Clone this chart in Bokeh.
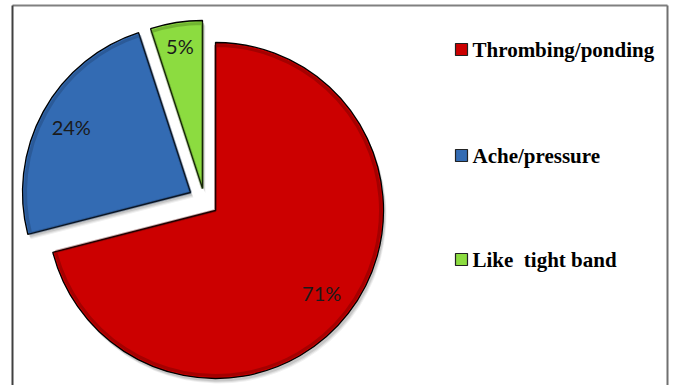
import math
from bokeh.plotting import figure
from bokeh.models import Range1d
from bokeh.core.properties import value
from bokeh.embed import file_html
from bokeh.resources import INLINE

# ---- data ----
labels = ["Thrombing/ponding", "Ache/pressure", "Like  tight band"]
values = [71, 24, 5]
pct_labels = ["71%", "24%", "5%"]
colors = ["#CC0000", "#336BB3", "#8CDC40"]
edge_colors = ["#5a0000", "#1c3c66", "#3e6a16"]

# ---- layout (pixel space, y measured up from bottom) ----
W, H = 675, 385
cx, cy, R = 215, 385 - 210, 168
explode = [(0, 0), (-25, 18), (-13, 22)]      # per-slice offsets
label_frac = [0.80, 0.81, 0.86]

p = figure(width=W, height=H, output_backend="svg", toolbar_location=None,
           x_range=Range1d(0, W), y_range=Range1d(0, H), min_border=0)
p.axis.visible = False
p.grid.visible = False
p.outline_line_color = None
p.background_fill_color = "white"
p.border_fill_color = "white"

# frame
p.segment(x0=[12, 12, 667], y0=[H - 5, H - 5, H - 5], x1=[667, 12, 667], y1=[H - 5, -5, -5],
          line_color=["#808080", "#404040", "#707070"], line_width=2)

total = sum(values)
start = 90.0
for i, v in enumerate(values):
    sweep = 360.0 * v / total
    end = start - sweep
    ox, oy = explode[i]
    x, y = cx + ox, cy + oy
    # soft shadow
    for k, a in [(5, 0.06), (4, 0.08), (3, 0.10)]:
        p.wedge(x=[x + k * 0.6], y=[y - k], radius=R, start_angle=math.radians(end),
                end_angle=math.radians(start), fill_color="black", fill_alpha=a,
                line_color=None)
    p.wedge(x=[x], y=[y], radius=R, start_angle=math.radians(end),
            end_angle=math.radians(start), fill_color=colors[i],
            line_color="black", line_width=1.3)
    # inner bevel
    p.wedge(x=[x], y=[y], radius=R - 3, start_angle=math.radians(end),
            end_angle=math.radians(start), fill_color=None,
            line_color=edge_colors[i], line_alpha=0.35, line_width=3)
    mid = math.radians(start - sweep / 2)
    lx = x + label_frac[i] * R * math.cos(mid)
    ly = y + label_frac[i] * R * math.sin(mid)
    p.text(x=[lx], y=[ly], text=[pct_labels[i]], text_font=value("Lato"),
           text_font_size="20px", text_color="#1a1a1a",
           text_align="center", text_baseline="middle")
    start = end

# legend
leg_y = [H - 49, H - 155, H - 259]
shown = [s.replace("  ", "\u00a0 ") for s in labels]
p.scatter(x=[461] * 3, y=leg_y, marker="square", size=12, fill_color=colors,
          line_color="#222222", line_width=1.2)
p.text(x=[472] * 3, y=leg_y, text=shown, text_font=value("Liberation Serif"),
       text_font_style="bold", text_font_size="21px", text_color="black",
       text_align="left", text_baseline="middle")

open("out.html", "w").write(file_html(p, INLINE))
